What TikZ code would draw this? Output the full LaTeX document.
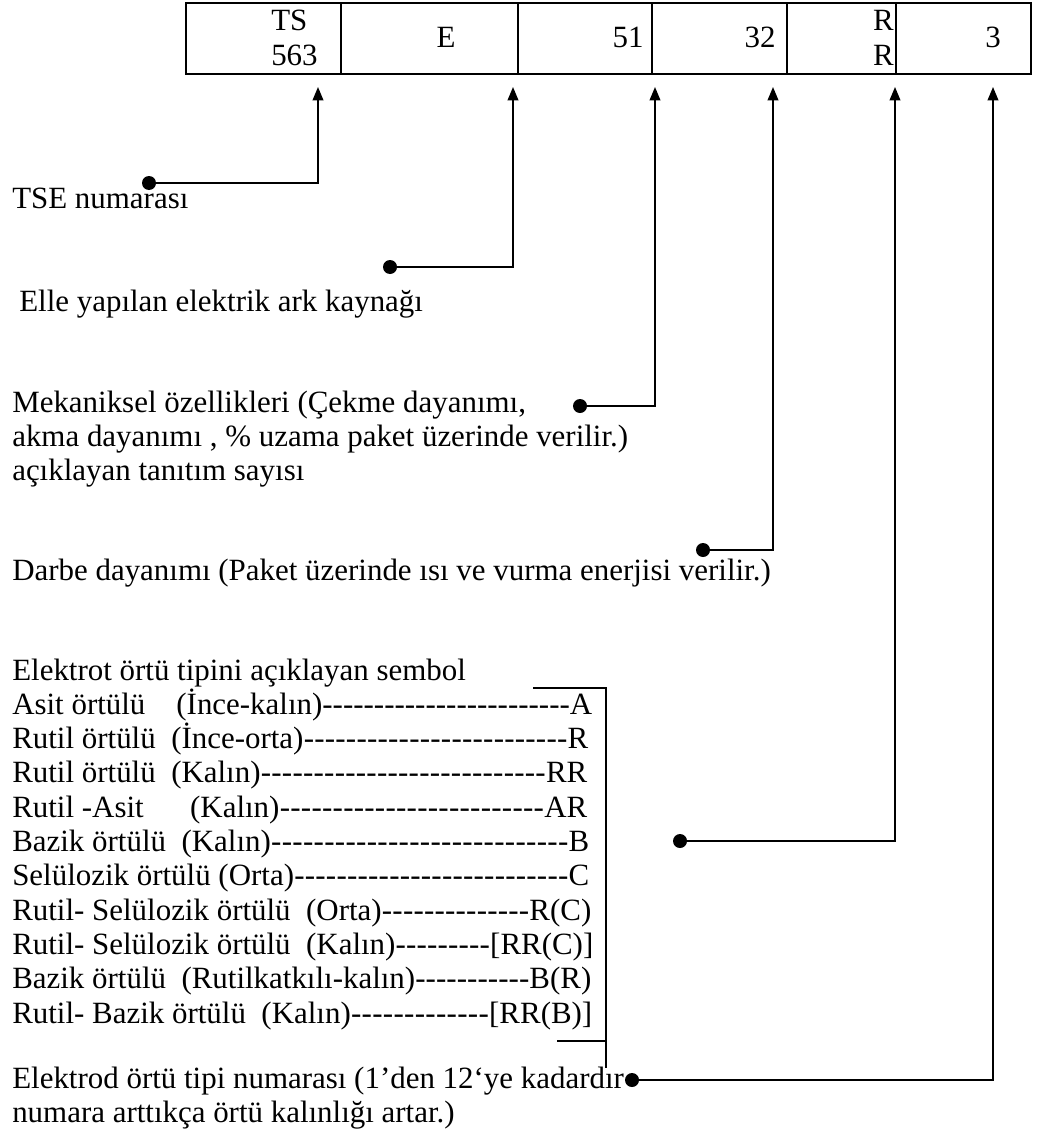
\documentclass[tikz,border=0pt]{standalone}
\usepackage{fontspec}
\setmainfont{Liberation Serif}
\usetikzlibrary{arrows.meta}
\newdimen\px \px=0.75pt
% a row of the coating list: left text, hyphen leaders, symbol at the right edge
\newcommand\coatrow[3]{\makebox[#1\px][l]{#2\xleaders\hbox{-}\hfill #3}}
\begin{document}
\begin{tikzpicture}[x=0.75pt,y=-0.75pt,
  txt/.style={anchor=base west, inner sep=0pt, font=\fontsize{23.2}{26}\selectfont},
  celltxt/.style={anchor=base, inner sep=0pt, font=\fontsize{23.2}{26}\selectfont},
  frame/.style={line width=1.3pt},
  conn/.style={line width=1.2pt, -{Triangle[length=10pt,width=8pt]}},
  dotmark/.style={circle, fill=black, inner sep=0pt, minimum size=10.5pt},
  bracket/.style={line width=1.2pt}]
\useasboundingbox (0,0) rectangle (1038,1131);

% the designation table
\draw[frame] (186,3) rectangle (1031,74);
\foreach \xx in {341,518,652,787,896} \draw[frame] (\xx,3) -- (\xx,74);
\node[txt] (cTS) at (271,31) {TS};
\node[txt] (cTSn) at (271,65) {563};
\node[celltxt] (cE) at (446,48) {E};
\node[celltxt] (c51) at (628,48) {51};
\node[celltxt] (c32) at (760,48) {32};
\node[celltxt, anchor=base east] (cR1) at (894,31) {R};
\node[celltxt, anchor=base east] (cR2) at (894,65) {R};
\node[celltxt] (c3) at (993,48) {3};

% arrow tips below the table
\coordinate (tTS) at (318,87);
\coordinate (tE) at (513,87);
\coordinate (t51) at (655,87);
\coordinate (t32) at (773,87);
\coordinate (tRR) at (895,87);
\coordinate (t3) at (993,87);

% explanations
\node[txt] (lTSE) at (12,208) {TSE numarası};
\node[txt] (lElle) at (19,311) {Elle yapılan elektrik ark kaynağı};
\node[txt] (lMek1) at (12,412) {Mekaniksel özellikleri (Çekme dayanımı,};
\node[txt] (lMek2) at (12,446) {akma dayanımı , \% uzama paket üzerinde verilir.)};
\node[txt] (lMek3) at (12,480) {açıklayan tanıtım sayısı};
\node[txt] (lDarbe) at (12,580) {Darbe dayanımı (Paket üzerinde ısı ve vurma enerjisi verilir.)};

\node[txt] (lEl) at (12,680) {Elektrot örtü tipini açıklayan sembol};
\node[txt] (r1) at (12,714.3) {\coatrow{580}{Asit örtülü~~~~(İnce-kalın)}{A}};
\node[txt] (r2) at (12,748.6) {\coatrow{576}{Rutil örtülü~~(İnce-orta)}{R}};
\node[txt] (r3) at (12,782.9) {\coatrow{575}{Rutil örtülü~~(Kalın)}{RR}};
\node[txt] (r4) at (12,817.2) {\coatrow{575}{Rutil -Asit~~~~~~(Kalın)}{AR}};
\node[txt] (r5) at (12,851.5) {\coatrow{577}{Bazik örtülü~~(Kalın)}{B}};
\node[txt] (r6) at (12,885.8) {\coatrow{577}{Selülozik örtülü (Orta)}{C}};
\node[txt] (r7) at (12,920.1) {\coatrow{579}{Rutil- Selülozik örtülü~~(Orta)}{R(C)}};
\node[txt] (r8) at (12,954.4) {\coatrow{581}{Rutil- Selülozik örtülü~~(Kalın)}{[RR(C)]}};
\node[txt] (r9) at (12,988.7) {\coatrow{579}{Bazik örtülü~~(Rutilkatkılı-kalın)}{B(R)}};
\node[txt] (r10) at (12,1023) {\coatrow{580}{Rutil- Bazik örtülü~~(Kalın)}{[RR(B)]}};

\node[txt] (lNo1) at (12,1088) {Elektrod örtü tipi numarası (1’den 12‘ye kadardır};
\node[txt] (lNo2) at (12,1122) {numara arttıkça örtü kalınlığı artar.)};

% bracket grouping the coating list
\coordinate (bTop) at (533,688);
\coordinate (bCorner) at (606,688);
\coordinate (bEnd) at (606,1068);
\coordinate (bFoot) at (557,1041);
\draw[bracket] (bTop) -- (bCorner) -- (bEnd);
\draw[bracket] (bFoot) -- (bFoot -| bCorner);

% dots and leader connectors
\node[dotmark] (dTS) at (149,183) {};
\node[dotmark] (dE) at (390,267) {};
\node[dotmark] (d51) at (580,406) {};
\node[dotmark] (d32) at (703,550) {};
\node[dotmark] (dRR) at (680,841) {};
\node[dotmark] (d3) at (632,1080) {};

\draw[conn] (dTS.center) -| (tTS);
\draw[conn] (dE.center) -| (tE);
\draw[conn] (d51.center) -| (t51);
\draw[conn] (d32.center) -| (t32);
\draw[conn] (dRR.center) -| (tRR);
\draw[conn] (d3.center) -| (t3);
\end{tikzpicture}
\end{document}
